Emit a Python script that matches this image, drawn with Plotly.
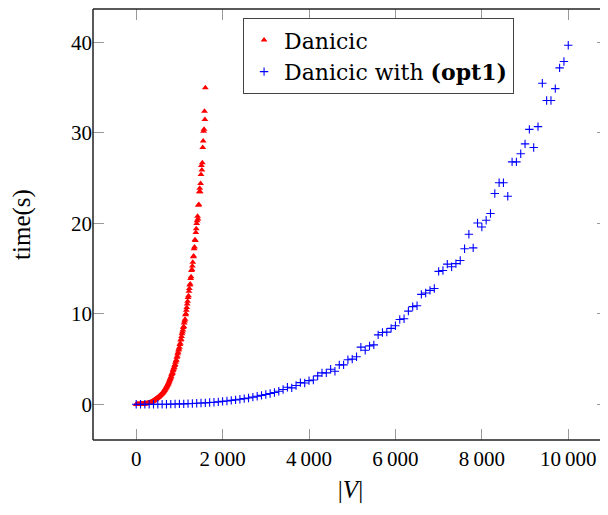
import plotly.graph_objects as go

# Danicic (red triangles): |V| from 0 to 1600 step 10
danicic_x = list(range(0, 1610, 10))
danicic_t = [
    0.0, 0.0, 0.0, 0.0, 0.0, 0.0, 0.0, 0.01, 0.01, 0.01,
    0.01, 0.02, 0.02, 0.02, 0.03, 0.03, 0.04, 0.04, 0.05, 0.05,
    0.05, 0.06, 0.07, 0.08, 0.08, 0.09, 0.10, 0.12, 0.13, 0.14,
    0.15, 0.17, 0.19, 0.21, 0.23, 0.26, 0.28, 0.31, 0.34, 0.37,
    0.40, 0.43, 0.46, 0.49, 0.53, 0.56, 0.60, 0.64, 0.68, 0.71,
    0.75, 0.79, 0.84, 0.88, 0.92, 0.97, 1.02, 1.06, 1.11, 1.16,
    1.20, 1.26, 1.32, 1.39, 1.45, 1.52, 1.58, 1.66, 1.74, 1.82,
    1.90, 2.00, 2.08, 2.20, 2.27, 2.38, 2.50, 2.60, 2.75, 2.86,
    3.00, 3.10, 3.28, 3.40, 3.50, 3.70, 3.85, 4.00, 4.10, 4.30,
    4.40, 4.65, 4.80, 4.90, 5.20, 5.30, 5.60, 5.75, 6.00, 6.10,
    6.30, 6.60, 6.75, 7.10, 7.20, 7.50, 7.80, 8.00, 8.20, 8.50,
    8.60, 9.00, 9.20, 9.40, 9.90, 10.0, 10.4, 10.7, 11.1, 11.4,
    11.8, 12.0, 12.5, 12.8, 13.2, 13.3, 13.9, 14.1, 14.8, 14.9,
    15.3, 15.7, 16.3, 16.4, 17.2, 17.4, 18.2, 18.1, 19.0, 19.4,
    20.0, 20.3, 20.8, 20.5, 22.0, 22.1, 23.5, 23.9, 23.5, 24.4,
    25.4, 26.4, 25.9, 26.7, 28.4, 29.1, 30.2, 30.4, 32.4, 31.5,
    35.0,
]

# Danicic with (opt1) (blue crosses): |V| from 0 to 10000 step 100
opt1_x = list(range(0, 10100, 100))
opt1_t = [
    0.0, 0.0, 0.0, 0.0, 0.0, 0.01, 0.01, 0.01, 0.02, 0.03,
    0.04, 0.05, 0.07, 0.09, 0.11, 0.14, 0.16, 0.20, 0.23, 0.27,
    0.32, 0.37, 0.43, 0.49, 0.55, 0.63, 0.70, 0.79, 0.88, 0.98,
    1.08, 1.19, 1.31, 1.44, 1.63, 1.88, 1.81, 2.07, 2.40, 2.36,
    2.62, 2.69, 3.14, 3.47, 3.47, 3.88, 3.66, 4.36, 4.36, 4.92,
    4.99, 5.25, 6.32, 5.98, 6.46, 6.57, 7.68, 7.94, 7.98, 8.39,
    8.68, 9.38, 9.45, 10.3, 10.8, 10.9, 12.15, 12.3, 12.6, 12.8,
    14.7, 14.8, 15.5, 15.2, 15.55, 15.9, 17.2, 18.8, 17.3, 20.05,
    19.6, 20.35, 21.1, 23.3, 24.5, 24.5, 23.0, 26.8, 26.8, 27.7,
    28.8, 30.4, 28.4, 30.7, 35.5, 33.6, 33.6, 34.9, 37.2, 37.9,
    39.7,
]

x_ticks = [0, 2000, 4000, 6000, 8000, 10000]
x_tick_text = ["0", "2\u2009000", "4\u2009000", "6\u2009000", "8\u2009000", "10\u2009000"]
y_ticks = [0, 10, 20, 30, 40]

FONT = "Liberation Serif"
LEGEND_FONT = "DejaVu Serif"

fig = go.Figure()
fig.add_trace(go.Scatter(
    x=danicic_x, y=danicic_t, mode="markers", name="Danicic",
    marker=dict(symbol="triangle-up", size=6, color="red", line=dict(width=0)),
))
fig.add_trace(go.Scatter(
    x=opt1_x, y=opt1_t, mode="markers", name="Danicic with <b>(opt1)</b>",
    marker=dict(symbol="cross-thin", size=6, color="blue", line=dict(width=1.1, color="blue")),
))

axis_common = dict(
    showgrid=False, zeroline=False, ticks="inside", ticklen=11, tickwidth=1.2,
    tickcolor="#999999", showline=False, mirror="ticks",
    tickfont=dict(family=FONT, size=21, color="black"),
)
fig.update_xaxes(range=[-1000, 10920], tickvals=x_ticks, ticktext=x_tick_text,
                 ticklabelstandoff=4,
                 title=dict(text="|<i>V</i>|", font=dict(family=FONT, size=25, color="black"), standoff=10),
                 **axis_common)
fig.update_yaxes(range=[-3.95, 43.71], tickvals=y_ticks,
                 title=dict(text="time(s)", font=dict(family=FONT, size=25, color="black"), standoff=38),
                 **axis_common)

# frame: left, top, bottom lines (right edge falls outside the image)
for x0, y0, x1, y1 in [(0, 0, 0, 1), (0, 1, 1.02, 1), (0, 0, 1.02, 0)]:
    fig.add_shape(type="line", xref="paper", yref="paper", x0=x0, y0=y0, x1=x1, y1=y1,
                  line=dict(color="#222222", width=1.5))

fig.update_layout(
    width=600, height=507,
    margin=dict(l=85, r=0, t=1, b=75),
    plot_bgcolor="white", paper_bgcolor="white",
    font=dict(family=FONT, size=21, color="black"),
    showlegend=True,
    legend=dict(x=0.291, y=0.979, xanchor="left", yanchor="top",
                bgcolor="white", bordercolor="#444444", borderwidth=1.2,
                font=dict(family=LEGEND_FONT, size=22, color="black"),
                itemwidth=30, tracegroupgap=0),
)

fig.write_html("out.html")
